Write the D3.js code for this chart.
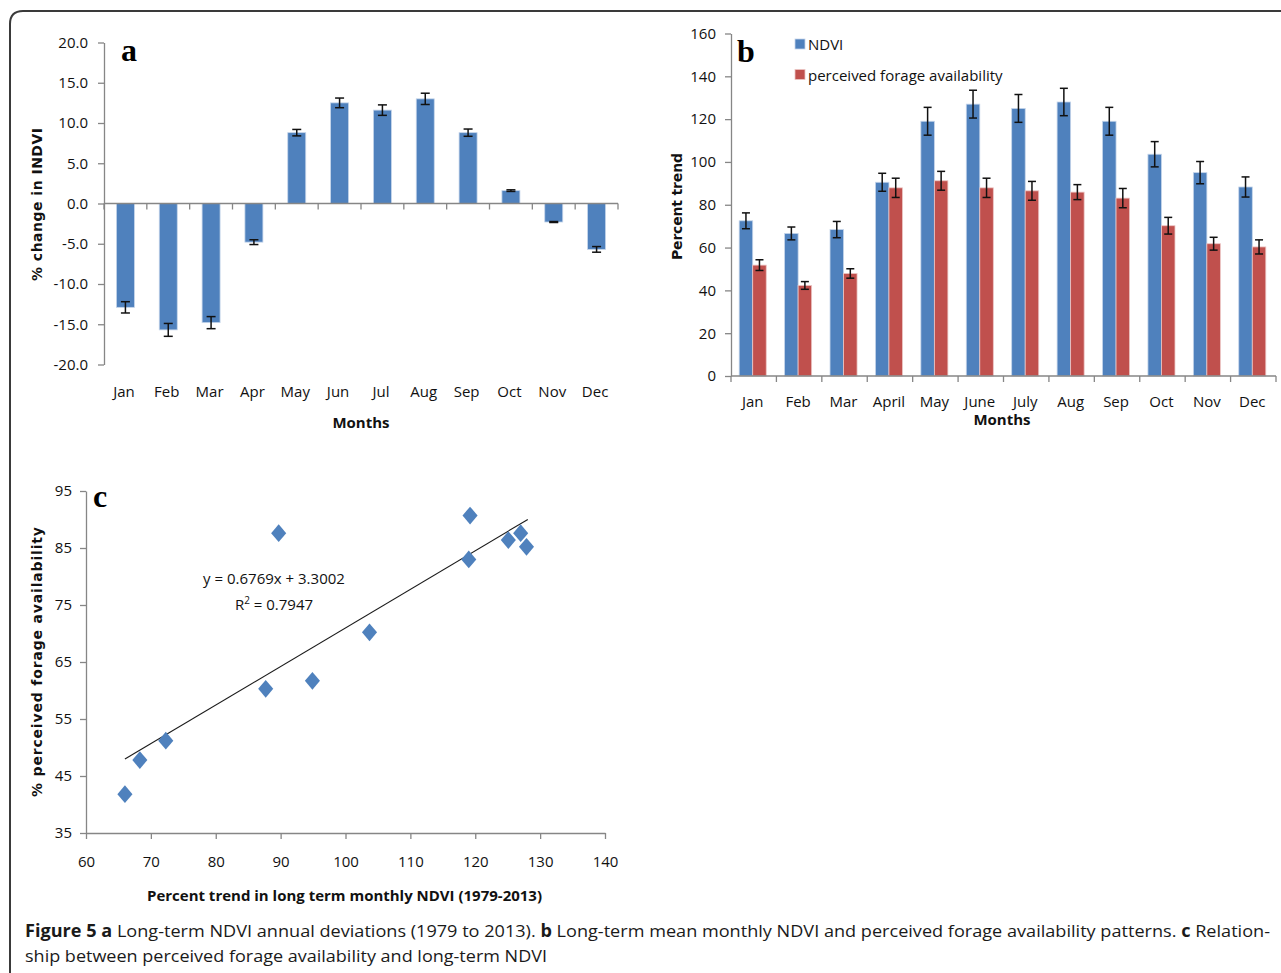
<!DOCTYPE html>
<html>
<head>
<meta charset="utf-8">
<script src="https://cdn.jsdelivr.net/npm/d3@7"></script>
<style>
  html, body { margin: 0; padding: 0; background: #fff; }
  svg { display: block; }
</style>
</head>
<body>
<script>
// ---------------- DATA ----------------
const monthsA = ["Jan","Feb","Mar","Apr","May","Jun","Jul","Aug","Sep","Oct","Nov","Dec"];
const ndviChange = [-12.9, -15.7, -14.8, -4.8, 8.8, 12.5, 11.6, 13.0, 8.8, 1.6, -2.3, -5.7];
const ndviChangeErr = [0.7, 0.8, 0.75, 0.3, 0.4, 0.6, 0.65, 0.7, 0.45, 0.1, 0.06, 0.35];
const yTicksA = [-20, -15, -10, -5, 0, 5, 10, 15, 20];

const monthsB = ["Jan","Feb","Mar","April","May","June","July","Aug","Sep","Oct","Nov","Dec"];
const seriesB = ["NDVI", "perceived forage availability"];
const ndviTrend = [72.5, 66.6, 68.4, 90.5, 119.0, 127.0, 125.0, 128.0, 119.0, 103.6, 95.0, 88.3];
const ndviTrendErr = [3.7, 3.0, 3.8, 4.2, 6.5, 6.5, 6.5, 6.4, 6.5, 5.9, 5.2, 4.7];
const forageTrend = [51.8, 42.3, 47.9, 87.9, 91.2, 87.9, 86.5, 85.9, 83.1, 70.2, 61.8, 60.3];
const forageTrendErr = [2.5, 1.8, 2.2, 4.5, 4.4, 4.5, 4.4, 3.5, 4.5, 3.9, 3.0, 3.3];
const yTicksB = [0, 20, 40, 60, 80, 100, 120, 140, 160];

// scatter (panel c), monthly points: x = NDVI percent trend, y = % perceived forage availability
const scatterNdvi = [72.3, 66.0, 68.3, 89.7, 119.2, 127.0, 125.1, 127.9, 119.0, 103.7, 94.9, 87.7];
const scatterForage = [51.2, 41.8, 47.8, 87.6, 90.7, 87.6, 86.4, 85.2, 83.0, 70.2, 61.7, 60.3];
const xTicksC = [60, 70, 80, 90, 100, 110, 120, 130, 140];
const yTicksC = [35, 45, 55, 65, 75, 85, 95];
const trendSlope = 0.6769, trendIntercept = 3.3002, trendR2 = 0.7947;

// ---------------- STYLE ----------------
const W = 1281, H = 973;
const BLUE = "#4F81BD", RED = "#C0504D";
const AXIS = "#868686";
const FONT = "'Open Sans', 'Noto Sans', sans-serif";
const LABELFONT = "'DejaVu Sans', Verdana, sans-serif";
const SERIF = "'Liberation Serif', 'DejaVu Serif', serif";

const svg = d3.select("body").append("svg").attr("width", W).attr("height", H);

// frame
svg.append("path")
  .attr("d", "M10,990 L10,24 Q10,11 23,11 L1300,11")
  .attr("fill", "none").attr("stroke", "#3a3a3a").attr("stroke-width", 2);

function styleAxis(g) {
  g.select(".domain").attr("stroke", AXIS).attr("stroke-width", 1.3);
  g.selectAll(".tick line").attr("stroke", AXIS).attr("stroke-width", 1.3);
  g.selectAll(".tick text").attr("font-family", FONT).attr("font-size", 15).attr("fill", "#111");
}

function errBar(g, x, yTop, yBot, cap) {
  g.append("line").attr("x1", x).attr("x2", x).attr("y1", yTop).attr("y2", yBot);
  g.append("line").attr("x1", x - cap).attr("x2", x + cap).attr("y1", yTop).attr("y2", yTop);
  g.append("line").attr("x1", x - cap).attr("x2", x + cap).attr("y1", yBot).attr("y2", yBot);
}

function fitText(sel, target, adjust) {
  sel.attr("textLength", target).attr("lengthAdjust", adjust || "spacingAndGlyphs");
}

// ================= PANEL A =================
{
  const ya = d3.scaleLinear().domain([-20, 20]).range([364.5, 42.5]);
  const xa = d3.scaleBand().domain(monthsA).range([104, 618]);
  const g = svg.append("g");

  g.append("g").attr("transform", "translate(104,0)")
    .call(d3.axisLeft(ya).tickValues(yTicksA).tickFormat(d => d.toFixed(1)).tickSize(6).tickSizeOuter(0).tickPadding(10))
    .call(styleAxis);

  const bw = xa.bandwidth() * 0.42;
  g.append("g").selectAll("rect").data(monthsA).join("rect")
    .attr("x", d => xa(d) + xa.bandwidth() / 2 - bw / 2)
    .attr("width", bw)
    .attr("y", (d, i) => Math.min(ya(ndviChange[i]), ya(0)))
    .attr("height", (d, i) => Math.abs(ya(ndviChange[i]) - ya(0)))
    .attr("fill", BLUE).attr("stroke", "#c5d5ea").attr("stroke-width", 0.8);

  // x axis at zero
  const y0 = ya(0);
  g.append("line").attr("x1", 104).attr("x2", 618).attr("y1", y0).attr("y2", y0)
    .attr("stroke", AXIS).attr("stroke-width", 1.3);
  const bounds = monthsA.map(d => xa(d)).concat([xa.range()[1]]);
  g.append("g").selectAll("line").data(bounds).join("line")
    .attr("x1", d => d).attr("x2", d => d).attr("y1", y0).attr("y2", y0 + 6)
    .attr("stroke", AXIS).attr("stroke-width", 1.3);

  const eg = g.append("g").attr("stroke", "#111").attr("stroke-width", 1.5);
  monthsA.forEach((d, i) => {
    const cx = xa(d) + xa.bandwidth() / 2;
    const v = ndviChange[i], e = ndviChangeErr[i];
    errBar(eg, cx, ya(v + e), ya(v - e), 4.5);
  });

  g.append("g").selectAll("text").data(monthsA).join("text")
    .attr("x", d => xa(d) + xa.bandwidth() / 2 - 1.5).attr("y", 397)
    .attr("text-anchor", "middle").attr("font-family", FONT).attr("font-size", 15).attr("fill", "#111")
    .text(d => d);

  g.append("text").attr("x", 361).attr("y", 428).attr("text-anchor", "middle")
    .attr("font-family", FONT).attr("font-weight", "bold").attr("font-size", 15).attr("fill", "#111")
    .text("Months");

  const yl = g.append("text").attr("transform", "translate(42,281) rotate(-90)")
    .attr("font-family", LABELFONT).attr("font-weight", "bold").attr("font-size", 14).attr("fill", "#111")
    .text("% change in INDVI");
  fitText(yl, 153, "spacing");

  g.append("text").attr("x", 121).attr("y", 61)
    .attr("font-family", SERIF).attr("font-weight", "bold").attr("font-size", 32).attr("fill", "#000")
    .text("a");
}

// ================= PANEL B =================
{
  const yb = d3.scaleLinear().domain([0, 160]).range([376, 33.5]);
  const xb = d3.scaleBand().domain(monthsB).range([731, 1276]);
  const xs = d3.scaleBand().domain(seriesB).range([0, xb.bandwidth()]).paddingInner(0).paddingOuter(0.68);
  const g = svg.append("g");

  g.append("g").attr("transform", "translate(731,0)")
    .call(d3.axisLeft(yb).tickValues(yTicksB).tickFormat(d3.format("d")).tickSize(6).tickSizeOuter(0).tickPadding(9))
    .call(styleAxis);

  const vals = [ndviTrend, forageTrend];
  const errs = [ndviTrendErr, forageTrendErr];
  const cols = [BLUE, RED];
  const strokes = ["#c5d5ea", "#ecc6c5"];

  seriesB.forEach((s, k) => {
    g.append("g").selectAll("rect").data(monthsB).join("rect")
      .attr("x", d => xb(d) + xs(s) - 1)
      .attr("width", xs.bandwidth())
      .attr("y", (d, i) => yb(vals[k][i]))
      .attr("height", (d, i) => yb(0) - yb(vals[k][i]))
      .attr("fill", cols[k]).attr("stroke", strokes[k]).attr("stroke-width", 0.8);
  });

  g.append("line").attr("x1", 731).attr("x2", 1276).attr("y1", 376).attr("y2", 376)
    .attr("stroke", AXIS).attr("stroke-width", 1.3);
  const bounds = monthsB.map(d => xb(d)).concat([xb.range()[1]]);
  g.append("g").selectAll("line").data(bounds).join("line")
    .attr("x1", d => d).attr("x2", d => d).attr("y1", 376).attr("y2", 382)
    .attr("stroke", AXIS).attr("stroke-width", 1.3);

  const eg = g.append("g").attr("stroke", "#111").attr("stroke-width", 1.5);
  seriesB.forEach((s, k) => {
    monthsB.forEach((d, i) => {
      const cx = xb(d) + xs(s) - 1 + xs.bandwidth() / 2;
      const v = vals[k][i], e = errs[k][i];
      errBar(eg, cx, yb(v + e), yb(v - e), 4);
    });
  });

  g.append("g").selectAll("text").data(monthsB).join("text")
    .attr("x", d => xb(d) + xb.bandwidth() / 2 - 1).attr("y", 407)
    .attr("text-anchor", "middle").attr("font-family", FONT).attr("font-size", 15).attr("fill", "#111")
    .text(d => d);

  g.append("text").attr("x", 1002).attr("y", 425).attr("text-anchor", "middle")
    .attr("font-family", FONT).attr("font-weight", "bold").attr("font-size", 15).attr("fill", "#111")
    .text("Months");

  const yl = g.append("text").attr("transform", "translate(682,260) rotate(-90)")
    .attr("font-family", LABELFONT).attr("font-weight", "bold").attr("font-size", 14).attr("fill", "#111")
    .text("Percent trend");
  fitText(yl, 107, "spacing");

  g.append("text").attr("x", 737).attr("y", 62)
    .attr("font-family", SERIF).attr("font-weight", "bold").attr("font-size", 32).attr("fill", "#000")
    .text("b");

  // legend
  const lg = g.append("g");
  seriesB.forEach((s, k) => {
    const ly = 39 + k * 30.5;
    lg.append("rect").attr("x", 795).attr("y", ly).attr("width", 10).attr("height", 10)
      .attr("fill", cols[k]).attr("stroke", strokes[k]).attr("stroke-width", 0.8);
    lg.append("text").attr("x", 808).attr("y", ly + 11)
      .attr("font-family", FONT).attr("font-size", 15).attr("fill", "#111").text(s);
  });
}

// ================= PANEL C =================
{
  const xc = d3.scaleLinear().domain([60, 140]).range([86, 605]);
  const yc = d3.scaleLinear().domain([35, 95]).range([833, 491]);
  const g = svg.append("g");

  g.append("g").attr("transform", "translate(86,0)")
    .call(d3.axisLeft(yc).tickValues(yTicksC).tickFormat(d3.format("d")).tickSize(6).tickSizeOuter(0).tickPadding(8))
    .call(styleAxis);
  g.append("g").attr("transform", "translate(0,833)")
    .call(d3.axisBottom(xc).tickValues(xTicksC).tickFormat(d3.format("d")).tickSize(6).tickSizeOuter(0).tickPadding(17))
    .call(styleAxis);

  // trend line over data x extent
  const ext = d3.extent(scatterNdvi);
  const line = d3.line().x(d => xc(d)).y(d => yc(trendSlope * d + trendIntercept));
  g.append("path").attr("d", line([ext[0], ext[1] + 0.2]))
    .attr("fill", "none").attr("stroke", "#1a1a1a").attr("stroke-width", 1.1);

  const diamond = {
    draw(ctx, size) {
      const h = Math.sqrt(size) * 0.62, w = h * 0.85;
      ctx.moveTo(0, -h); ctx.lineTo(w, 0); ctx.lineTo(0, h); ctx.lineTo(-w, 0); ctx.closePath();
    }
  };
  g.append("g").selectAll("path").data(scatterNdvi).join("path")
    .attr("transform", (d, i) => `translate(${xc(d)},${yc(scatterForage[i])})`)
    .attr("d", d3.symbol().type(diamond).size(205))
    .attr("fill", BLUE);

  g.append("text").attr("x", 274).attr("y", 584).attr("text-anchor", "middle")
    .attr("font-family", FONT).attr("font-size", 15).attr("fill", "#111")
    .text(`y = ${trendSlope}x + ${trendIntercept}`);
  const r2 = g.append("text").attr("x", 274).attr("y", 610).attr("text-anchor", "middle")
    .attr("font-family", FONT).attr("font-size", 15).attr("fill", "#111");
  r2.append("tspan").text("R");
  r2.append("tspan").attr("font-size", 10).attr("dy", -6).text("2");
  r2.append("tspan").attr("dy", 6).text(` = ${trendR2}`);

  const xt = g.append("text").attr("x", 147).attr("y", 901)
    .attr("font-family", FONT).attr("font-weight", "bold").attr("font-size", 15).attr("fill", "#111")
    .text("Percent trend in long term monthly NDVI (1979-2013)");
  fitText(xt, 395);

  const yl = g.append("text").attr("transform", "translate(42,797) rotate(-90)")
    .attr("font-family", LABELFONT).attr("font-weight", "bold").attr("font-size", 14).attr("fill", "#111")
    .text("% perceived forage availability");
  fitText(yl, 270, "spacing");

  g.append("text").attr("x", 93).attr("y", 507)
    .attr("font-family", SERIF).attr("font-weight", "bold").attr("font-size", 32).attr("fill", "#000")
    .text("c");
}

// ================= CAPTION =================
{
  const g = svg.append("g").attr("font-family", FONT).attr("font-size", 17).attr("fill", "#1a1a1a");
  const t1 = g.append("text").attr("x", 25).attr("y", 937);
  const parts = [
    ["Figure 5 a", true], [" Long-term NDVI annual deviations (1979 to 2013). ", false],
    ["b", true], [" Long-term mean monthly NDVI and perceived forage availability patterns. ", false],
    ["c", true], [" Relation-", false]
  ];
  parts.forEach(([s, b]) => t1.append("tspan").attr("font-weight", b ? "bold" : "normal").text(s));
  fitText(t1, 1245);
  const t2 = g.append("text").attr("x", 25).attr("y", 962)
    .text("ship between perceived forage availability and long-term NDVI");
  fitText(t2, 522);
}
</script>
</body>
</html>
